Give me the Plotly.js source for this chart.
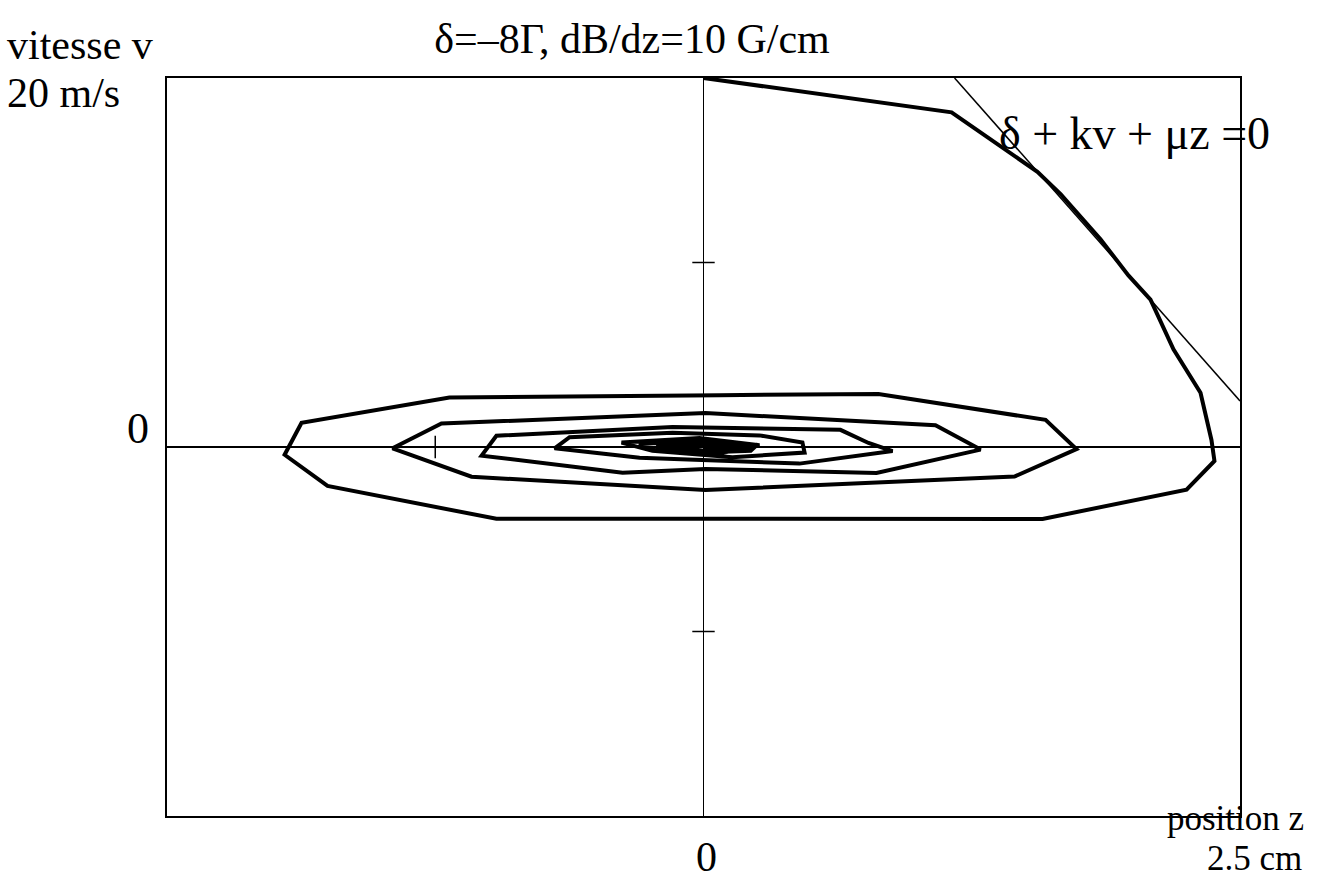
<!DOCTYPE html>
<html>
<head>
<meta charset="utf-8">
<script src="https://cdn.plot.ly/plotly-3.0.1.min.js"></script>
<style>
  body { margin: 0; background: #fff; }
  #plot { width: 1324px; height: 881px; }
</style>
</head>
<body>
<div id="plot"></div>
<script>
// trajectory in phase space: position z (cm), speed v (m/s)
const trajZ = [0, 1.156, 1.556, 1.664, 1.850, 1.980, 2.083, 2.190, 2.316, 2.367, 2.381, 2.251,
    1.580, 0.461, -0.965, -1.752, -1.952, -1.873, -1.184, 0.075, 0.815, 1.594, 1.738, 1.449,
    0.009, -1.081, -1.449, -1.221, 0.009, 1.081, 1.291,
    0.806, 0.009, -0.377, -1.034, -0.965, -0.144, 0.638, 0.769, 0.881,
    0.447, -0.298, -0.694, -0.624, -0.144, 0.261, 0.461, 0.471,
    0.135, -0.238, -0.382, -0.019, 0.261,
    0.075, -0.25, -0.30, -0.05, 0.25, 0.22, 0.0, -0.22, 0.0, 0.2, 0.0, -0.15, 0.0, 0.1, 0];
const trajV = [20, 18.14, 14.91, 13.71, 11.26, 9.30, 7.99, 5.30, 2.94, 0.38, -0.76, -2.31,
    -3.90, -3.88, -3.89, -2.11, -0.42, 1.31, 2.68, 2.81, 2.87, 1.47, -0.11, -1.60,
    -2.33, -1.61, -0.07, 1.27, 1.84, 1.18, -0.14,
    -1.41, -1.19, -1.39, -0.47, 0.61, 1.09, 0.93, 0.22, -0.22,
    -0.90, -0.58, -0.07, 0.53, 0.77, 0.63, 0.24, -0.30,
    -0.55, -0.21, 0.24, 0.49, 0.09,
    -0.35, -0.15, 0.15, 0.35, 0.12, -0.2, -0.3, 0.0, 0.25, 0.0, -0.2, 0.05, 0.15, 0, 0];

// resonance line  delta + k v + mu z = 0
const resZ = [1.17, 2.5];
const resV = [20, 2.5];

// small cross ticks on the zero lines
const tickZ = [-1.25];
const tickV = [-10, 10];

const serif = 'Liberation Serif, Times New Roman, serif';

const data = [
    {
        x: resZ, y: resV,
        mode: 'lines',
        line: { color: 'black', width: 1.5 },
        hoverinfo: 'skip'
    },
    {
        x: trajZ, y: trajV,
        mode: 'lines',
        line: { color: 'black', width: 4, shape: 'linear' },
        hoverinfo: 'skip'
    },
    {
        x: tickZ, y: tickZ.map(() => 0),
        mode: 'markers',
        marker: { symbol: 'line-ns', size: 16, line: { color: 'black', width: 1.5 } },
        hoverinfo: 'skip'
    },
    {
        x: tickV.map(() => 0), y: tickV,
        mode: 'markers',
        marker: { symbol: 'line-ew', size: 16, line: { color: 'black', width: 1.5 } },
        hoverinfo: 'skip'
    }
];

function note(text, x, y, xanchor, size) {
    return {
        text: text, xref: 'paper', yref: 'paper', x: x, y: y,
        xanchor: xanchor, yanchor: 'middle', showarrow: false,
        borderpad: 0,
        font: { family: serif, size: size || 42, color: 'black' }
    };
}

const layout = {
    width: 1324,
    height: 881,
    margin: { l: 167, r: 84, t: 78, b: 65 },
    paper_bgcolor: 'white',
    plot_bgcolor: 'white',
    showlegend: false,
    title: {
        text: 'δ=–8Γ, dB/dz=10 G/cm',
        x: 632 / 1324, xanchor: 'center',
        y: 1 - 38 / 881, yanchor: 'middle',
        font: { family: serif, size: 42, color: 'black' }
    },
    xaxis: {
        range: [-2.5, 2.5],
        showgrid: false, zeroline: true, zerolinecolor: 'black', zerolinewidth: 1.5,
        showline: true, mirror: true, linecolor: 'black', linewidth: 2,
        ticks: '', showticklabels: false, fixedrange: true
    },
    yaxis: {
        range: [-20, 20],
        showgrid: false, zeroline: true, zerolinecolor: 'black', zerolinewidth: 1.5,
        showline: true, mirror: true, linecolor: 'black', linewidth: 2,
        ticks: '', showticklabels: false, fixedrange: true
    },
    annotations: [
        note('vitesse v', -0.150, 1.045, 'left', 42),
        note('20 m/s', -0.150, 0.980, 'left', 42),
        note('0', -0.027, 0.525, 'center', 44),
        note('0', 0.503, -0.055, 'center', 42),
        note('position z', 1.0606, -0.003, 'right', 35),
        note('2.5 cm', 1.0590, -0.058, 'right', 35),
        note('δ + kv + μz =0', 0.774, 0.925, 'left', 46)
    ]
};

Plotly.newPlot('plot', data, layout, { displayModeBar: false, staticPlot: true });
</script>
</body>
</html>
